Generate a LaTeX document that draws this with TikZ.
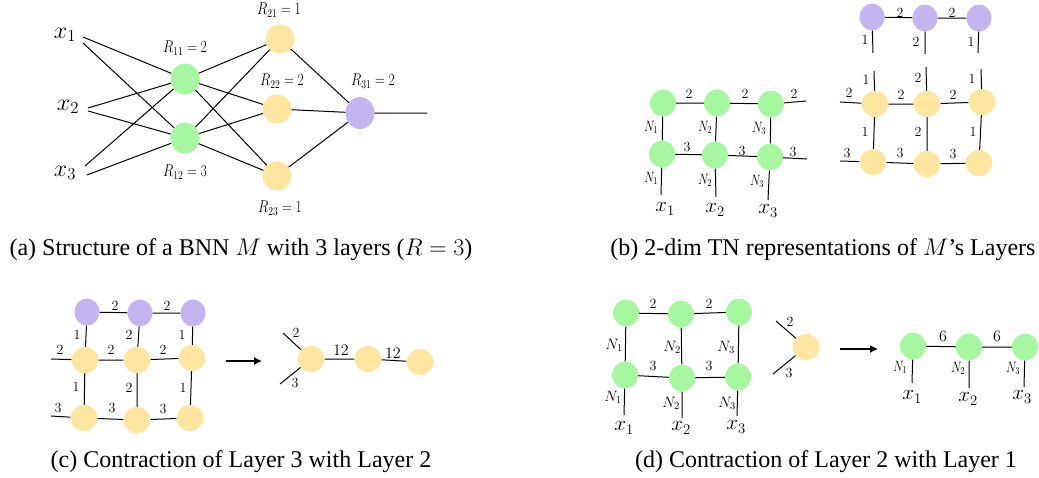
\RequirePackage{fix-cm}
\documentclass[tikz,border=0pt]{standalone}
\usepackage[no-math]{fontspec}
\setmainfont{Liberation Serif}
\usepackage{graphicx}
\usetikzlibrary{shapes.geometric,arrows.meta}
\definecolor{grn}{RGB}{166,247,160}
\definecolor{ylw}{RGB}{253,230,160}
\definecolor{prp}{RGB}{196,181,240}
\newcommand{\sqz}[1]{\scalebox{0.8}[1]{#1}}
\tikzset{
  gA/.style={ellipse,fill=grn,minimum width=29pt,minimum height=31pt,inner sep=0},
  yA/.style={ellipse,fill=ylw,minimum width=29pt,minimum height=29pt,inner sep=0},
  pA/.style={ellipse,fill=prp,minimum width=29pt,minimum height=32pt,inner sep=0},
  gn/.style={ellipse,fill=grn,minimum width=26pt,minimum height=27pt,inner sep=0},
  yn/.style={ellipse,fill=ylw,minimum width=27pt,minimum height=26pt,inner sep=0},
  pn/.style={ellipse,fill=prp,minimum width=25pt,minimum height=27pt,inner sep=0},
  lw/.style={line width=1pt,black},
  arr/.style={line width=1.2pt,-{Latex[length=8pt,width=8pt]}},
  dg/.style={inner sep=0,font=\fontsize{14}{14}\selectfont},
  dgb/.style={inner sep=0,font=\fontsize{16}{16}\selectfont},
  nl/.style={inner sep=0,font=\fontsize{15}{15}\selectfont},
  xl/.style={inner sep=0,font=\fontsize{21}{21}\selectfont},
  xa/.style={inner sep=0,font=\fontsize{24}{24}\selectfont},
  rl/.style={inner sep=0,font=\fontsize{17}{17}\selectfont},
  captxt/.style={inner sep=0,font=\fontsize{24}{24}\selectfont},
}
\begin{document}
\begin{tikzpicture}[x=1pt,y=-1pt]
\useasboundingbox (0,0) rectangle (1039,477);
% ---------------- panel (a)
\node[xa] (x1) at (65,35) {$x_1$};
\node[xa] (x2) at (68,107) {$x_2$};
\node[xa] (x3) at (65,173) {$x_3$};
\coordinate (x1a) at (83,37); \coordinate (x1b) at (83,43);
\coordinate (x2a) at (88,108); \coordinate (x2b) at (88,111);
\coordinate (x3a) at (85,166); \coordinate (x3b) at (87,175);
\node[gA] (R11) at (185,79) {};
\node[gA] (R12) at (185,138) {};
\node[yA] (R21) at (280,39) {};
\node[yA] (R22) at (277,109) {};
\node[yA] (R23) at (277,176) {};
\node[pA] (R31) at (360,113) {};
\coordinate (out) at (427,113);
\draw[lw] (x1a) -- (R11) (x1b) -- (R12) (x2a) -- (R11) (x2b) -- (R12) (x3a) -- (R11) (x3b) -- (R12);
\draw[lw] (R11) -- (R21) (R11) -- (R22) (R11) -- (R23) (R12) -- (R21) (R12) -- (R22) (R12) -- (R23);
\draw[lw] (R21) -- (R31) (R22) -- (R31) (R23) -- (R31) (R31) -- (out);
\node[rl] (l11) at (185,48) {\sqz{$R_{11}=2$}};
\node[rl] (l12) at (185,172) {\sqz{$R_{12}=3$}};
\node[rl] (l21) at (279,10) {\sqz{$R_{21}=1$}};
\node[rl] (l22) at (282,81) {\sqz{$R_{22}=2$}};
\node[rl] (l23) at (280,208) {\sqz{$R_{23}=1$}};
\node[rl] (l31) at (373,81) {\sqz{$R_{31}=2$}};
% ---------------- panel (b) left
\node[gn] (b11) at (663,103) {};
\node[gn] (b12) at (717,103) {};
\node[gn] (b13) at (771,104) {};
\node[gn] (b21) at (662,154) {};
\node[gn] (b22) at (715,155) {};
\node[gn] (b23) at (770,157) {};
\coordinate (bte) at (806,101); \coordinate (bbe) at (807,159);
\coordinate (bd1) at (661,195); \coordinate (bd2) at (716,197); \coordinate (bd3) at (768,200);
\draw[lw] (b11) -- (b12) -- (b13) -- (bte);
\draw[lw] (b21) -- (b22) -- (b23) -- (bbe);
\draw[lw] (b11) -- (b21) (b12) -- (b22) (b13) -- (b23);
\draw[lw] (b21) -- (bd1) (b22) -- (bd2) (b23) -- (bd3);
\node[dg] (bl1) at (689,94) {$2$};
\node[dg] (bl2) at (745,94) {$2$};
\node[dg] (bl3) at (794,94) {$2$};
\node[dg] (bl4) at (687,147) {$3$};
\node[dg] (bl5) at (742,151) {$3$};
\node[dg] (bl6) at (793,152) {$3$};
\node[nl] (bn1) at (651,127) {\sqz{$N_1$}};
\node[nl] (bn2) at (705,127) {\sqz{$N_2$}};
\node[nl] (bn3) at (759,128) {\sqz{$N_3$}};
\node[nl] (bn4) at (651,178) {\sqz{$N_1$}};
\node[nl] (bn5) at (705,180) {\sqz{$N_2$}};
\node[nl] (bn6) at (757,181) {\sqz{$N_3$}};
\node[xl] (bx1) at (665,209) {$x_1$};
\node[xl] (bx2) at (715,210) {$x_2$};
\node[xl] (bx3) at (768,211) {$x_3$};
% ---------------- panel (b) right
\node[pn] (q1) at (872,17) {};
\node[pn] (q2) at (925,18) {};
\node[pn] (q3) at (979,18) {};
\coordinate (qd1) at (873,53); \coordinate (qd2) at (925,54); \coordinate (qd3) at (978,53);
\draw[lw] (q1) -- (q2) -- (q3);
\draw[lw] (q1) -- (qd1) (q2) -- (qd2) (q3) -- (qd3);
\node[dg] (ql1) at (900,13) {$2$};
\node[dg] (ql2) at (952,13) {$2$};
\node[dg] (ql3) at (865,40) {$1$};
\node[dg] (ql4) at (916,42) {$2$};
\node[dg] (ql5) at (971,42) {$1$};
\node[yn] (u11) at (875,104) {};
\node[yn] (u12) at (927,104) {};
\node[yn] (u13) at (982,102) {};
\node[yn] (u21) at (873,162) {};
\node[yn] (u22) at (927,164) {};
\node[yn] (u23) at (979,163) {};
\coordinate (uu1) at (874,71); \coordinate (uu2) at (926,67); \coordinate (uu3) at (981,69);
\coordinate (ul1) at (840,102); \coordinate (ul2) at (840,161);
\draw[lw] (ul1) -- (u11) -- (u12) -- (u13);
\draw[lw] (ul2) -- (u21) -- (u22) -- (u23);
\draw[lw] (u11) -- (u21) (u12) -- (u22) (u13) -- (u23);
\draw[lw] (u11) -- (uu1) (u12) -- (uu2) (u13) -- (uu3);
\node[dg] (ua1) at (866,80) {$1$};
\node[dg] (ua2) at (918,78) {$2$};
\node[dg] (ua3) at (972,79) {$1$};
\node[dg] (ua4) at (849,93) {$2$};
\node[dg] (ua5) at (901,95) {$2$};
\node[dg] (ua6) at (953,95) {$2$};
\node[dg] (ua7) at (865,132) {$1$};
\node[dg] (ua8) at (918,132) {$2$};
\node[dg] (ua9) at (973,132) {$1$};
\node[dg] (ub1) at (847,153) {$3$};
\node[dg] (ub2) at (900,153) {$3$};
\node[dg] (ub3) at (953,154) {$3$};
% ---------------- panel (c)
\node[pn] (c01) at (87,312) {};
\node[pn] (c02) at (140,313) {};
\node[pn] (c03) at (193,313) {};
\node[yn] (c11) at (85,360) {};
\node[yn] (c12) at (137,360) {};
\node[yn] (c13) at (192,358) {};
\node[yn] (c21) at (84,418) {};
\node[yn] (c22) at (137,420) {};
\node[yn] (c23) at (190,418) {};
\coordinate (cl1) at (51,359); \coordinate (cl2) at (51,416);
\draw[lw] (c01) -- (c02) -- (c03);
\draw[lw] (cl1) -- (c11) -- (c12) -- (c13);
\draw[lw] (cl2) -- (c21) -- (c22) -- (c23);
\draw[lw] (c01) -- (c11) -- (c21) (c02) -- (c12) -- (c22) (c03) -- (c13) -- (c23);
\node[dg] (cd1) at (115,306) {$2$};
\node[dg] (cd2) at (167,306) {$2$};
\node[dg] (cd3) at (77,335) {$1$};
\node[dg] (cd4) at (129,335) {$2$};
\node[dg] (cd5) at (182,335) {$1$};
\node[dg] (cd6) at (60,350) {$2$};
\node[dg] (cd7) at (111,350) {$2$};
\node[dg] (cd8) at (163,350) {$2$};
\node[dg] (cd9) at (76,387) {$1$};
\node[dg] (cd10) at (129,388) {$2$};
\node[dg] (cd11) at (183,388) {$1$};
\node[dg] (cd12) at (58,408) {$3$};
\node[dg] (cd13) at (112,408) {$3$};
\node[dg] (cd14) at (163,409) {$3$};
\coordinate (ca1) at (226,361); \coordinate (ca2) at (262,361);
\draw[arr] (ca1) -- (ca2);
\node[yn] (c31) at (311,359) {};
\node[yn] (c32) at (368,359) {};
\node[yn] (c33) at (420,362) {};
\coordinate (cs1) at (283,333); \coordinate (cs2) at (280,384);
\draw[lw] (cs1) -- (c31) (cs2) -- (c31);
\draw[lw] (c31) -- (c32) -- (c33);
\node[dg] (ce1) at (296,333) {$2$};
\node[dg] (ce2) at (295,383) {$3$};
\node[dgb] (ce3) at (341,350) {$12$};
\node[dgb] (ce4) at (393,353) {$12$};
% ---------------- panel (d)
\node[gn] (d11) at (626,313) {};
\node[gn] (d12) at (681,314) {};
\node[gn] (d13) at (739,312) {};
\node[gn] (d21) at (625,375) {};
\node[gn] (d22) at (682,378) {};
\node[gn] (d23) at (738,377) {};
\coordinate (dd1) at (624,415); \coordinate (dd2) at (682,418); \coordinate (dd3) at (737,416);
\draw[lw] (d11) -- (d12) -- (d13);
\draw[lw] (d21) -- (d22) -- (d23);
\draw[lw] (d11) -- (d21) (d12) -- (d22) (d13) -- (d23);
\draw[lw] (d21) -- (dd1) (d22) -- (dd2) (d23) -- (dd3);
\node[dg] (dl1) at (653,304) {$2$};
\node[dg] (dl2) at (709,304) {$2$};
\node[dg] (dl3) at (653,366) {$3$};
\node[dg] (dl4) at (709,366) {$3$};
\node[nl] (dn1) at (614,345) {$N_1$};
\node[nl] (dn2) at (672,347) {$N_2$};
\node[nl] (dn3) at (726,347) {$N_3$};
\node[nl] (dn4) at (613,397) {$N_1$};
\node[nl] (dn5) at (671,403) {$N_2$};
\node[nl] (dn6) at (727,403) {$N_3$};
\node[xl] (dx1) at (624,428) {$x_1$};
\node[xl] (dx2) at (681,428) {$x_2$};
\node[xl] (dx3) at (736,427) {$x_3$};
\node[yn] (dy) at (806,347) {};
\coordinate (ds1) at (776,321); \coordinate (ds2) at (773,374);
\draw[lw] (ds1) -- (dy) (ds2) -- (dy);
\node[dg] (dy1) at (790,322) {$2$};
\node[dg] (dy2) at (789,373) {$3$};
\coordinate (da1) at (840,349); \coordinate (da2) at (878,349);
\draw[arr] (da1) -- (da2);
\node[gn] (e1) at (913,346) {};
\node[gn] (e2) at (969,347) {};
\node[gn] (e3) at (1025,347) {};
\coordinate (ed1) at (912,383); \coordinate (ed2) at (969,388); \coordinate (ed3) at (1024,387);
\draw[lw] (e1) -- (e2) -- (e3);
\draw[lw] (e1) -- (ed1) (e2) -- (ed2) (e3) -- (ed3);
\node[dgb] (el1) at (943,336) {$6$};
\node[dgb] (el2) at (997,336) {$6$};
\node[nl] (en1) at (900,367) {\sqz{$N_1$}};
\node[nl] (en2) at (958,368) {\sqz{$N_2$}};
\node[nl] (en3) at (1013,368) {\sqz{$N_3$}};
\node[xl] (ex1) at (912,397) {$x_1$};
\node[xl] (ex2) at (968,399) {$x_2$};
\node[xl] (ex3) at (1022,397) {$x_3$};
% ---------------- captions
\node[captxt] (capa) at (241,250) {(a) Structure of a BNN $M$ with 3 layers ($R=3$)};
\node[captxt] (capb) at (823,250) {(b) 2-dim TN representations of $M$’s Layers};
\node[captxt] (capc) at (241,462) {(c) Contraction of Layer 3 with Layer 2};
\node[captxt] (capd) at (826,462) {(d) Contraction of Layer 2 with Layer 1};
\end{tikzpicture}
\end{document}
